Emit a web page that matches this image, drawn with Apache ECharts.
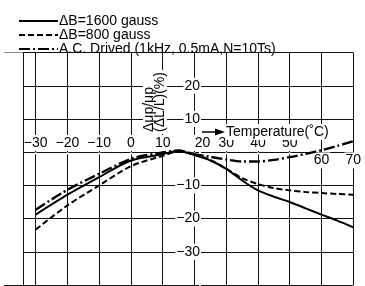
<!DOCTYPE html>
<html>
<head>
<meta charset="utf-8"/>
<title>Temperature characteristic</title>
<script src="https://cdn.jsdelivr.net/npm/echarts@6/dist/echarts.min.js"></script>
<style>
    html, body { margin: 0; padding: 0; background: #fff; }
    #main { width: 365px; height: 286px; }
</style>
</head>
<body>
<div id="main"></div>
<script>
// data
var temps = [-30, -20, -10, 0, 10, 15, 20, 25, 30, 35, 40, 45, 50, 55, 60, 65, 70];
var b1600 = [-18.8, -12.8, -7.5, -2.5, -0.6, 0.4, -0.9, -2.5, -5.0, -8.5, -11.5, -13.4, -15.0, -16.9, -18.8, -20.6, -22.6];
var b800 = [-23.3, -16.0, -10.0, -4.2, -1.1, 0.2, -0.8, -2.3, -5.0, -7.8, -9.6, -10.8, -11.5, -12.0, -12.3, -12.6, -12.8];
var acDrive = [-17.3, -11.3, -6.5, -2.0, -0.1, 0.5, -0.6, -1.4, -2.2, -2.8, -2.8, -2.3, -1.5, -0.5, 0.6, 1.9, 3.3];
var names = ['ΔB=1600 gauss', 'ΔB=800 gauss', 'A.C. Drived (1kHz, 0.5mA,N=10Ts)'];
var xLabelsAbove = [-30, -20, -10, 0, 10, 20, 30, 40, 50];
var xLabelsBelow = [60, 70];
var yLabels = [20, 10, -10, -20, -30];

var FONT = 'Liberation Sans, Arial, Helvetica, sans-serif';

function fmt(v) {
    return v < 0 ? '\u2212' + Math.abs(v) : '' + v;
}
function pairs(ys) {
    return temps.map(function (t, i) { return [t, ys[i]]; });
}

var myChart = echarts.init(document.getElementById('main'));

var labelBase = {
    color: '#000',
    fontFamily: FONT,
    fontSize: 14,
    backgroundColor: '#fff',
    padding: [1, 1]
};

var option = {
    animation: false,
    color: ['#000', '#000', '#000'],
    legend: {
        orient: 'vertical',
        left: 13,
        top: 9,
        itemWidth: 39,
        itemHeight: 10,
        itemGap: 0,
        data: names,
        itemStyle: { opacity: 0 },
        textStyle: { color: '#000', fontFamily: FONT, fontSize: 14, lineHeight: 11, padding: [0, 0, 0, -4] }
    },
    grid: { left: -5, top: 52.6, width: 366.8, height: 235 },
    xAxis: [
        {
            type: 'value', min: -40, max: 70, interval: 10,
            position: 'top', offset: -100.4,
            axisLine: { show: false }, axisTick: { show: false },
            splitLine: { lineStyle: { color: '#111', width: 1 } },
            axisLabel: Object.assign({}, labelBase, {
                margin: 2,
                formatter: function (v) {
                    if (xLabelsAbove.indexOf(v) < 0) return '';
                    if (v === 20) return '{r|20}';
                    return fmt(v);
                },
                rich: { r: { fontFamily: FONT, fontSize: 14, color: '#000', padding: [0, 0, 0, 16] } }
            })
        },
        {
            type: 'value', min: -40, max: 70, interval: 10,
            position: 'bottom', offset: -134.6,
            axisLine: { show: false }, axisTick: { show: false }, splitLine: { show: false },
            axisLabel: Object.assign({}, labelBase, {
                margin: 2,
                formatter: function (v) { return xLabelsBelow.indexOf(v) < 0 ? '' : fmt(v); }
            })
        }
    ],
    yAxis: {
        type: 'value', min: -40, max: 30, interval: 10,
        position: 'left', offset: -200,
        axisLine: { show: false }, axisTick: { show: false },
        splitLine: { lineStyle: { color: '#111', width: 1 } },
        axisLabel: Object.assign({}, labelBase, {
            margin: 3,
            formatter: function (v) { return yLabels.indexOf(v) < 0 ? '' : fmt(v); }
        })
    },
    series: [
        {
            name: names[0], type: 'line', data: pairs(b1600),
            smooth: 0.3, symbol: 'none', clip: false,
            lineStyle: { color: '#000', width: 2, type: 'solid' },
            markArea: {
                silent: true,
                itemStyle: { color: '#fff', opacity: 1 },
                data: [[{ xAxis: -41, yAxis: -42 }, { xAxis: -34, yAxis: 32 }]]
            },
            markLine: {
                silent: true, symbol: 'none', label: { show: false },
                lineStyle: { color: '#111', width: 1, type: 'solid' },
                data: [{ xAxis: -34 }]
            }
        },
        {
            name: names[1], type: 'line', data: pairs(b800),
            smooth: 0.3, symbol: 'none',
            lineStyle: { color: '#000', width: 2, type: [6, 3] }
        },
        {
            name: names[2], type: 'line', data: pairs(acDrive),
            smooth: 0.3, symbol: 'none',
            lineStyle: { color: '#000', width: 2.4, type: [11, 3, 2, 3] }
        }
    ],
    graphic: [
        {
            type: 'line', z: 10,
            shape: { x1: 202, y1: 132, x2: 217, y2: 132 },
            style: { stroke: '#000', lineWidth: 1.5 }
        },
        {
            type: 'polygon', z: 10,
            shape: { points: [[215, 128.5], [225, 132], [215, 135.5]] },
            style: { fill: '#000' }
        },
        {
            type: 'text', z: 10, x: 225, y: 132,
            style: {
                text: 'Temperature(˚C)', font: '14px ' + FONT, fill: '#000',
                verticalAlign: 'middle', backgroundColor: '#fff', padding: [1, 1]
            }
        },
        {
            type: 'text', z: 10, x: 155, y: 134, rotation: Math.PI / 2,
            style: {
                text: 'Δμp/μp\n(ΔL/L)(%)', font: '14px ' + FONT, fill: '#000',
                align: 'left', verticalAlign: 'middle', lineHeight: 11,
                backgroundColor: '#fff', padding: [1, 2]
            }
        }
    ]
};

myChart.setOption(option);

window.onresize = function () {
    myChart.resize();
};
</script>
</body>
</html>
